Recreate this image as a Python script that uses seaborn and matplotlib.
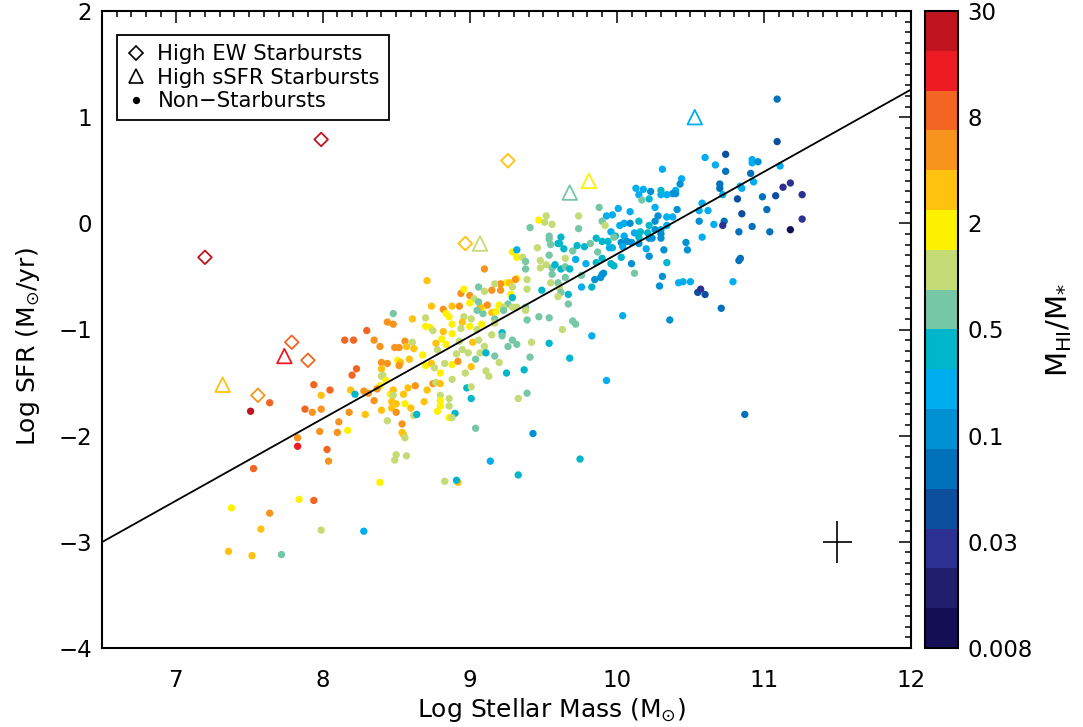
import numpy as np
import matplotlib
matplotlib.use("Agg")
import matplotlib.pyplot as plt
from matplotlib.colors import ListedColormap, LogNorm
from matplotlib.lines import Line2D
from matplotlib.ticker import MultipleLocator, NullLocator
import pandas as pd
import seaborn as sns

# ---------------------------------------------------------------
# Non-starburst galaxies: log stellar mass, log SFR, M_HI / M_*
# ---------------------------------------------------------------
# low-mass end (log M* < 8.1)
lo_mass = [7.51, 7.64, 7.83, 7.83, 7.53, 7.94, 8.05, 7.88, 7.93, 7.99, 7.99, 7.98,
           8.03, 8.04, 7.38, 7.64, 7.84, 7.94, 7.58, 7.36, 7.52, 7.72, 7.99]
lo_sfr = [-1.77, -1.69, -2.02, -2.10, -2.31, -1.52, -1.57, -1.75, -1.78, -1.75, -1.62, -1.96,
          -2.13, -2.24, -2.68, -2.73, -2.60, -2.61, -2.88, -3.09, -3.13, -3.12, -2.89]
lo_gas = [22, 8, 5, 14, 8, 8, 8, 8, 5, 5, 3, 5,
          8, 5, 1.8, 5, 1.8, 8, 3, 3, 3, 0.63, 1.05]

# intermediate mass (8.1 - 8.9)
mid_mass = [8.71, 8.48, 8.44, 8.48, 8.30, 8.15, 8.21, 8.35, 8.39, 8.56, 8.49, 8.52,
            8.61, 8.57, 8.62, 8.61, 8.70, 8.74, 8.82, 8.84, 8.86, 8.70, 8.73, 8.75,
            8.82, 8.77, 8.81, 8.84, 8.59, 8.68, 8.78, 8.40, 8.44, 8.51, 8.53, 8.52,
            8.23, 8.40, 8.70, 8.74, 8.76, 8.83, 8.80, 8.20, 8.40, 8.41, 8.43, 8.39,
            8.37, 8.28, 8.19, 8.22, 8.31, 8.46, 8.48, 8.48, 8.55, 8.58, 8.63, 8.71,
            8.75, 8.77, 8.80, 8.80, 8.35, 8.47, 8.50, 8.56, 8.60, 8.69, 8.80, 8.80,
            8.86, 8.86, 8.18, 8.29, 8.40, 8.47, 8.50, 8.62, 8.64, 8.78, 8.86, 8.11,
            8.10, 8.17, 8.39, 8.54, 8.54, 8.55, 8.56, 8.50, 8.49, 8.57, 8.44, 8.83,
            8.28]
mid_sfr = [-0.54, -0.85, -0.93, -0.95, -1.01, -1.10, -1.10, -1.10, -1.16, -1.11, -1.17, -1.17,
           -1.12, -1.16, -1.18, -0.90, -0.89, -0.78, -0.81, -0.85, -0.88, -0.97, -0.98, -1.01,
           -1.02, -1.13, -1.09, -1.14, -1.28, -1.24, -1.19, -1.31, -1.32, -1.29, -1.31, -1.34,
           -1.37, -1.37, -1.34, -1.32, -1.36, -1.32, -1.41, -1.43, -1.44, -1.43, -1.48, -1.53,
           -1.56, -1.58, -1.57, -1.61, -1.60, -1.61, -1.57, -1.62, -1.61, -1.55, -1.53, -1.57,
           -1.51, -1.50, -1.51, -1.62, -1.67, -1.68, -1.70, -1.70, -1.74, -1.68, -1.67, -1.72,
           -1.65, -1.72, -1.78, -1.80, -1.76, -1.74, -1.78, -1.81, -1.80, -1.77, -1.83, -1.87,
           -1.97, -1.95, -2.44, -1.89, -1.97, -1.99, -2.02, -2.18, -2.23, -2.19, -1.86, -2.43,
           -2.90]
mid_gas = [3, 0.63, 5, 5, 8, 8, 8, 5, 5, 5, 5, 5,
           1.05, 3, 3, 3, 1.05, 3, 5, 1.8, 1.8, 1.8, 1.8, 1.05,
           3, 3, 1.8, 1.8, 3, 1.8, 1.05, 5, 5, 1.8, 3, 5,
           8, 3, 1.8, 3, 1.05, 1.05, 1.8, 8, 1.05, 1.05, 1.8, 1.8,
           5, 5, 3, 0.38, 5, 1.8, 3, 1.05, 3, 3, 5, 3,
           5, 1.05, 3, 1.05, 5, 3, 3, 1.8, 3, 3, 1.8, 1.8,
           1.05, 1.05, 5, 3, 3, 3, 5, 1.05, 0.38, 1.8, 1.8, 5,
           5, 1.8, 1.8, 5, 3, 3, 1.05, 1.05, 1.05, 1.05, 1.05, 1.05,
           0.23]

# log M* ~ 8.9 - 9.75, upper part of the sequence
hi_mass = [9.10, 9.29, 9.32, 9.32, 9.36, 9.41, 9.47, 9.51, 9.52, 9.56, 9.46, 9.54,
           9.54, 9.55, 9.62, 9.61, 9.60, 9.64, 9.70, 9.74, 9.74, 9.73, 9.38, 9.38,
           9.48, 9.48, 9.52, 9.54, 9.56, 9.58, 9.62, 9.65, 9.65, 9.68, 9.72, 9.32,
           9.31, 9.25, 9.27, 9.29, 9.21, 9.17, 9.21, 9.15, 9.10, 9.06, 9.39, 9.39,
           9.49, 9.56, 9.55, 9.60, 9.61, 9.65, 9.67, 9.62, 9.60, 9.28, 9.29, 9.26,
           9.20, 9.23, 9.29, 9.32, 9.38, 9.38, 9.39, 9.47, 9.54, 9.63, 9.70, 9.72,
           9.42, 9.54, 9.29, 9.32, 9.26, 9.22, 9.22, 9.15, 9.17, 9.23, 9.09, 9.09,
           9.07, 9.05, 9.12, 9.15, 9.18, 8.94, 8.96, 9.00, 9.03, 8.93, 8.88, 8.96,
           9.01, 9.00, 8.95, 8.88, 8.88, 9.02, 9.10, 9.08, 8.93, 9.06, 9.00, 8.94,
           9.05, 9.17, 8.95, 9.06, 9.67]
hi_sfr = [-0.43, -0.27, -0.25, -0.32, -0.32, -0.04, 0.03, 0.01, 0.07, -0.01, -0.23, -0.15,
          -0.12, -0.20, -0.13, -0.19, -0.19, -0.24, -0.26, 0.07, -0.05, -0.21, -0.36, -0.43,
          -0.35, -0.42, -0.39, -0.30, -0.42, -0.39, -0.43, -0.33, -0.41, -0.43, -0.34, -0.52,
          -0.53, -0.56, -0.56, -0.60, -0.57, -0.57, -0.63, -0.63, -0.64, -0.60, -0.53, -0.62,
          -0.63, -0.48, -0.56, -0.56, -0.61, -0.51, -0.67, -0.65, -0.69, -0.67, -0.70, -0.76,
          -0.77, -0.79, -0.79, -0.79, -0.79, -0.82, -0.91, -0.88, -0.89, -1.00, -0.92, -0.95,
          -1.12, -1.13, -1.10, -1.14, -1.16, -1.03, -1.06, -1.05, -0.90, -0.82, -0.85, -0.79,
          -0.79, -0.82, -0.77, -0.84, -0.83, -0.66, -0.62, -0.68, -0.71, -0.78, -0.78, -0.88,
          -0.90, -0.97, -0.93, -0.95, -1.04, -1.12, -1.16, -0.95, -1.11, -0.74, -0.75, -0.99,
          -1.00, -0.94, -1.19, -1.10, -0.76]
hi_gas = [5, 1.8, 0.23, 1.8, 1.05, 0.63, 1.8, 1.05, 1.05, 1.05, 1.05, 0.63,
          0.63, 0.63, 0.38, 0.38, 0.38, 0.38, 0.63, 1.05, 0.63, 0.38, 0.63, 0.63,
          1.05, 1.05, 1.05, 0.63, 0.63, 0.38, 0.38, 1.05, 0.63, 0.38, 0.23, 1.8,
          5, 1.8, 3, 1.05, 5, 1.05, 5, 5, 1.05, 0.63, 1.05, 1.05,
          0.38, 0.63, 1.05, 0.63, 1.05, 0.63, 0.38, 0.63, 1.05, 1.8, 0.38, 0.63,
          1.8, 1.05, 1.05, 1.05, 0.63, 1.05, 0.63, 0.63, 0.63, 1.05, 0.63, 0.63,
          1.05, 0.38, 0.63, 0.63, 0.63, 0.38, 0.63, 1.05, 0.63, 0.63, 0.63, 1.8,
          3, 0.63, 5, 3, 1.8, 5, 1.8, 5, 1.05, 5, 3, 1.05,
          1.05, 1.8, 3, 1.8, 1.8, 3, 1.05, 1.8, 1.05, 0.63, 1.8, 1.05,
          1.05, 1.05, 1.05, 1.05, 0.63]

# log M* ~ 8.9 - 9.7, below the sequence
scat_mass = [8.90, 8.88, 8.98, 9.01, 9.01, 8.97, 9.01, 8.88, 8.92, 8.91, 8.99, 9.04,
             9.07, 9.11, 9.17, 9.20, 9.11, 9.13, 9.25, 9.37, 9.41, 9.68, 9.33, 9.39,
             9.04, 8.92, 8.91, 8.88, 9.14, 9.33, 9.43]
scat_sfr = [-1.79, -1.47, -1.55, -1.54, -1.65, -1.41, -1.35, -1.33, -1.30, -1.23, -1.22, -1.28,
            -1.22, -1.22, -1.25, -1.31, -1.39, -1.44, -1.41, -1.38, -1.26, -1.27, -1.65, -1.60,
            -1.93, -2.44, -2.42, -1.83, -2.24, -2.37, -1.98]
scat_gas = [0.38, 1.05, 0.38, 1.05, 0.38, 1.05, 3, 1.8, 5, 1.05, 1.05, 0.63,
            1.05, 0.38, 0.63, 1.05, 1.05, 1.05, 0.38, 0.38, 0.63, 0.38, 1.05, 0.63,
            0.63, 3, 0.38, 1.05, 0.23, 0.38, 0.135]

# massive end (log M* > 9.75)
top_mass = [11.09, 11.09, 10.60, 10.74, 10.67, 10.74, 10.31, 10.44, 10.43, 10.40, 10.40, 10.38,
            10.34, 10.30, 10.30, 10.23, 10.22, 10.18, 10.13, 10.15, 10.17, 10.26, 10.41, 10.28,
            10.34, 10.38, 10.34, 10.26, 10.22, 10.15, 10.09, 10.01, 9.97, 9.93, 9.88, 9.90,
            9.92, 10.02, 10.05, 10.09, 9.96, 9.99, 10.05, 10.12, 10.16, 10.21, 10.26, 10.30,
            10.30, 10.22, 10.24, 10.30, 10.15, 10.15, 10.07, 10.03, 10.10, 10.20, 10.22, 10.32,
            10.34, 9.86, 9.90, 9.94, 9.98, 9.97, 9.95, 10.04, 9.78, 9.82, 9.87, 9.90,
            9.86, 9.79, 10.03, 9.96, 10.10, 9.98, 9.90, 9.91, 9.89, 9.85, 9.76, 10.12,
            9.83, 9.76, 10.31, 10.29, 10.42, 10.45, 10.50, 10.55, 10.57, 10.60, 10.71, 10.79,
            10.83, 10.84, 10.47, 10.48, 10.58, 10.56, 10.56, 10.58, 10.62, 10.66, 10.73, 10.72,
            10.72, 10.70, 10.70, 10.83, 10.85, 10.82, 10.85, 10.84, 10.93, 10.91, 10.92, 10.92,
            10.96, 11.11, 10.99, 11.02, 10.92, 11.04, 11.08, 11.13, 11.18, 11.26, 11.26, 11.18,
            10.36, 10.04, 9.83, 9.93, 10.87, 9.75]
top_sfr = [1.17, 0.77, 0.62, 0.65, 0.55, 0.49, 0.51, 0.42, 0.37, 0.31, 0.28, 0.28,
           0.27, 0.27, 0.31, 0.30, 0.23, 0.32, 0.33, 0.27, 0.22, 0.15, 0.13, 0.07,
           0.06, 0.06, -0.02, 0.02, -0.02, 0.02, 0.11, 0.14, 0.08, 0.07, 0.15, 0.02,
           -0.02, -0.02, 0.00, 0.00, -0.08, -0.12, -0.12, -0.09, -0.08, -0.09, -0.06, -0.06,
           -0.10, -0.14, -0.14, -0.14, -0.13, -0.19, -0.17, -0.18, -0.18, -0.24, -0.31, -0.25,
           -0.37, -0.14, -0.17, -0.17, -0.13, -0.23, -0.23, -0.22, -0.22, -0.19, -0.27, -0.33,
           -0.37, -0.38, -0.32, -0.38, -0.38, -0.40, -0.48, -0.47, -0.51, -0.53, -0.49, -0.47,
           -0.60, -0.60, -0.50, -0.59, -0.56, -0.55, -0.55, -0.65, -0.62, -0.67, -0.80, -0.55,
           -0.35, -0.33, -0.18, -0.25, -0.13, 0.02, 0.12, 0.19, 0.12, -0.01, 0.02, -0.02,
           0.27, 0.33, 0.37, -0.08, 0.09, 0.23, 0.33, 0.35, 0.39, 0.47, 0.57, 0.60,
           0.58, 0.54, 0.25, 0.13, -0.03, -0.08, 0.26, 0.34, 0.38, 0.27, 0.04, -0.06,
           -0.91, -0.87, -1.06, -1.48, -1.80, -2.22]
top_gas = [0.08, 0.048, 0.23, 0.048, 0.23, 0.08, 0.23, 0.23, 0.135, 0.23, 0.135, 0.135,
           0.23, 0.23, 0.38, 0.135, 0.38, 0.23, 0.23, 0.23, 0.63, 0.23, 0.135, 0.135,
           0.23, 0.23, 0.23, 0.135, 0.38, 0.38, 0.23, 0.23, 0.23, 0.23, 0.63, 0.63,
           1.05, 0.23, 0.23, 0.135, 0.23, 0.38, 0.23, 0.23, 0.38, 0.38, 0.135, 0.23,
           0.135, 0.135, 0.135, 0.135, 0.38, 0.135, 0.135, 0.135, 0.135, 0.23, 0.135, 0.135,
           0.38, 0.38, 0.38, 0.38, 0.63, 0.38, 0.23, 0.23, 0.38, 0.63, 0.63, 0.38,
           0.38, 0.23, 0.38, 0.38, 0.135, 0.38, 0.23, 0.135, 0.135, 0.135, 0.63, 0.63,
           0.38, 0.23, 0.135, 0.135, 0.23, 0.23, 0.23, 0.048, 0.029, 0.048, 0.08, 0.23,
           0.08, 0.08, 0.135, 0.135, 0.23, 0.135, 0.23, 0.23, 0.23, 0.23, 0.08, 0.029,
           0.23, 0.08, 0.08, 0.08, 0.048, 0.048, 0.23, 0.23, 0.23, 0.08, 0.23, 0.23,
           0.135, 0.23, 0.08, 0.08, 0.08, 0.08, 0.048, 0.029, 0.029, 0.029, 0.029, 0.01,
           0.135, 0.23, 0.23, 0.23, 0.08, 0.38]

# High equivalent-width starbursts
ew_mass = [7.20, 7.99, 9.26, 8.97, 7.79, 7.90, 7.56]
ew_sfr = [-0.32, 0.79, 0.59, -0.19, -1.12, -1.29, -1.62]
ew_gas = [22, 22, 3, 3, 8, 8, 5]

# High specific-SFR starbursts
ssfr_mass = [9.07, 9.68, 9.81, 10.53, 7.74, 7.32]
ssfr_sfr = [-0.19, 0.29, 0.40, 1.00, -1.25, -1.52]
ssfr_gas = [1.05, 0.63, 1.8, 0.23, 14, 3]

# Linear SFR - stellar mass relation and typical uncertainties
fit_slope, fit_intercept = 0.775, -8.04
err_pos = (11.5, -3.0)
err_size = (0.1, 0.2)

# Colour scale: 16 logarithmic bands of HI-to-stellar mass ratio
gas_range = (0.008, 30)
band_colors = ["#140E55", "#211E6B", "#2E3092", "#0D4F9F", "#0071BB", "#0091D5",
               "#00AEEF", "#00B6CB", "#76C7A5", "#C5DB75", "#FFF200", "#FFC20E",
               "#F7941D", "#F26522", "#ED1C24", "#C0151F"]
cbar_labels = ["0.008", "", "0.03", "", "0.1", "", "0.5", "", "2", "", "8", "", "30"]

# ---------------------------------------------------------------
sns.set_style("white")
plt.rcParams["font.family"] = ["DejaVu Sans"]
plt.rcParams["mathtext.fontset"] = "dejavusans"
plt.rcParams["text.color"] = "black"
plt.rcParams["axes.labelcolor"] = "black"

cmap = ListedColormap(band_colors)
norm = LogNorm(vmin=gas_range[0], vmax=gas_range[1])

groups = [(lo_mass, lo_sfr, lo_gas), (mid_mass, mid_sfr, mid_gas),
          (hi_mass, hi_sfr, hi_gas), (scat_mass, scat_sfr, scat_gas),
          (top_mass, top_sfr, top_gas)]
frames = []
for m, s, g in groups:
    assert len(m) == len(s) == len(g), (len(m), len(s), len(g))
    frames.append(pd.DataFrame({"mass": m, "sfr": s, "gas": g}))
galaxies = pd.concat(frames, ignore_index=True)

W, H = 1083, 727
fig = plt.figure(figsize=(W / 100, H / 100), dpi=100)
ax = fig.add_axes([102 / W, 79 / H, 809 / W, 637 / H])

sns.scatterplot(data=galaxies, x="mass", y="sfr", hue="gas", palette=cmap,
                hue_norm=norm, s=28, linewidth=0, edgecolor="none",
                legend=False, ax=ax, zorder=3)

ax.scatter(ew_mass, ew_sfr, marker="D", s=48, facecolors="none",
           edgecolors=cmap(norm(np.array(ew_gas))), linewidths=1.3, zorder=4)
ax.scatter(ssfr_mass, ssfr_sfr, marker="^", s=110, facecolors="none",
           edgecolors=cmap(norm(np.array(ssfr_gas))), linewidths=1.3, zorder=4)

xfit = np.array([6.5, 12.0])
ax.plot(xfit, fit_slope * xfit + fit_intercept, color="black", lw=1.3, zorder=5)

ax.errorbar(err_pos[0], err_pos[1], xerr=err_size[0], yerr=err_size[1],
            color="black", lw=1.2, capsize=0, zorder=5)

ax.set_xlim(6.5, 12)
ax.set_ylim(-4, 2)
ax.set_xticks([7, 8, 9, 10, 11, 12])
ax.set_yticks([-4, -3, -2, -1, 0, 1, 2])
ax.xaxis.set_minor_locator(MultipleLocator(0.1))
ax.yaxis.set_minor_locator(MultipleLocator(0.1))
ax.tick_params(which="both", direction="in", top=True, right=True,
               width=1.1, colors="black", labelsize=16.5)
ax.tick_params(which="major", length=8.5)
ax.tick_params(which="minor", length=4.3)
ax.tick_params(axis="x", which="major", pad=15)
ax.tick_params(axis="y", which="major", pad=7)
for sp in ax.spines.values():
    sp.set_linewidth(1.5)
    sp.set_color("black")

ax.set_xlabel(r"Log Stellar Mass (M$_{\odot}$)", fontsize=18, labelpad=3, x=0.556)
ax.set_ylabel(r"Log SFR (M$_{\odot}$/yr)", fontsize=18, labelpad=12, y=0.473)

handles = [
    Line2D([], [], marker="D", ls="none", mfc="none", mec="black", ms=7.5, mew=1.2,
           label="High EW Starbursts"),
    Line2D([], [], marker="^", ls="none", mfc="none", mec="black", ms=10.5, mew=1.2,
           label="High sSFR Starbursts"),
    Line2D([], [], marker="o", ls="none", mfc="black", mec="black", ms=4.2,
           label="Non\u2212Starbursts"),
]
leg = ax.legend(handles=handles, loc="upper left", bbox_to_anchor=(0.0185, 0.962),
                borderaxespad=0, frameon=True, fancybox=False, edgecolor="black",
                fontsize=15.2, handlelength=1.0, handletextpad=0.5, borderpad=0.42,
                labelspacing=0.17)
leg.get_frame().set_linewidth(1.3)
leg.get_frame().set_alpha(1)

cax = fig.add_axes([925 / W, 79 / H, 33 / W, 637 / H])
sm = matplotlib.cm.ScalarMappable(norm=norm, cmap=cmap)
cb = fig.colorbar(sm, cax=cax)
cb.set_ticks(np.logspace(np.log10(gas_range[0]), np.log10(gas_range[1]), 13))
cb.set_ticklabels(cbar_labels)
cax.yaxis.set_minor_locator(NullLocator())
cax.tick_params(which="major", direction="in", length=5, width=1.1,
                labelsize=16.5, pad=7, right=True, left=False, colors="black")
cb.outline.set_linewidth(1.5)
cb.outline.set_edgecolor("black")
cb.set_label(r"$\mathrm{M_{HI}/M_{*}}$", fontsize=21, labelpad=8)

fig.savefig("out.png", dpi=100)
